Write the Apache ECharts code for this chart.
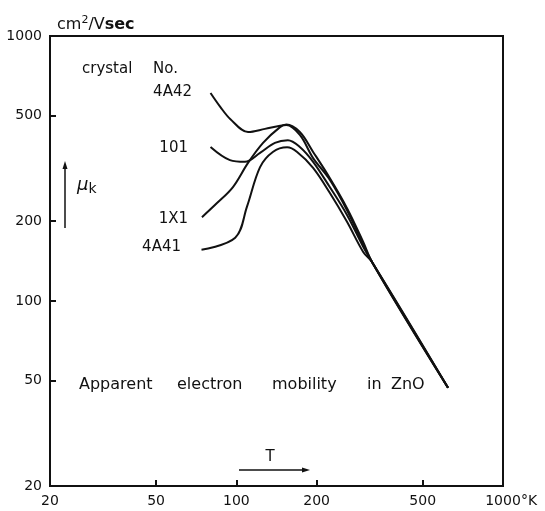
<!DOCTYPE html>
<html>
<head>
<meta charset="utf-8">
<script src="https://cdn.jsdelivr.net/npm/echarts@6/dist/echarts.min.js"></script>
<style>
html,body{margin:0;padding:0;background:#fff;}
#chart{width:545px;height:511px;}
</style>
</head>
<body>
<div id="chart"></div>
<script>
// Tick values
const xTickLabels = [20, 50, 100, 200, 500, 1000];
const xTicks = [50, 100, 200, 500];
const yTickLabels = [20, 50, 100, 200, 500, 1000];
const yTicks = [50, 100, 200, 500];

// Series names
const seriesNames = ['4A42', '101', '1X1', '4A41'];

// Temperature (K) and mobility (cm2/Vsec)
const t4A42 = [80, 87, 95, 110.6, 128, 146, 154, 173, 194, 224, 260, 323, 622];
const mu4A42 = [609, 540, 485, 434, 446, 458, 461, 423, 346, 287, 220, 140, 47];

const t101 = [80, 94.6, 107.7, 122.7, 139.5, 156, 173, 194, 224, 260, 299, 323, 622];
const mu101 = [381, 340, 335, 362, 395, 404, 381, 335, 269, 211, 160, 140, 47];

const t1X1 = [74.3, 84.6, 97.1, 110.6, 125.9, 145.8, 154, 173, 194, 224, 260, 299, 323, 622];
const mu1X1 = [207, 234, 269, 332, 395, 453, 463, 434, 365, 291, 224, 167, 140, 47];

const t4A41 = [74, 99, 109.6, 122.7, 137, 155, 169, 194, 224, 260, 299, 323, 622];
const mu4A41 = [156, 173, 227, 320, 365, 380, 365, 318, 256, 199, 153, 140, 47];

const FONT = 'DejaVu Sans';
const INK = '#111';

function pairs(xs, ys) { return xs.map((x, i) => [x, ys[i]]); }

const chart = echarts.init(document.getElementById('chart'), null, {renderer: 'canvas'});

function mkSeries(name, xs, ys) {
  return {
    name: name, type: 'line', data: pairs(xs, ys),
    showSymbol: false, symbol: 'none', smooth: 0.35,
    lineStyle: {color: INK, width: 2},
    animation: false, z: 3
  };
}

const option = {
  animation: false,
  backgroundColor: '#fff',
  grid: {left: 50, right: 42, top: 36, bottom: 25, show: true, borderColor: INK, borderWidth: 2, backgroundColor: 'transparent'},
  xAxis: {
    type: 'log', logBase: 10, min: 20, max: 1000,
    axisLine: {show: true, lineStyle: {color: INK, width: 2}},
    axisTick: {show: true, inside: true, length: 6, lineStyle: {color: INK, width: 2}, customValues: xTicks},
    axisLabel: {show: true, color: INK, fontFamily: FONT, fontSize: 14, margin: 8, customValues: xTickLabels,
      formatter: v => String(Math.round(v))},
    splitLine: {show: false}, minorTick: {show: false}
  },
  yAxis: {
    type: 'log', logBase: 10, min: 20, max: 1000,
    axisLine: {show: true, lineStyle: {color: INK, width: 2}},
    axisTick: {show: true, inside: true, length: 6, lineStyle: {color: INK, width: 2}, customValues: yTicks},
    axisLabel: {show: true, color: INK, fontFamily: FONT, fontSize: 14, margin: 8, customValues: yTickLabels,
      formatter: v => String(Math.round(v))},
    splitLine: {show: false}, minorTick: {show: false}
  },
  series: [
    mkSeries(seriesNames[0], t4A42, mu4A42),
    mkSeries(seriesNames[1], t101, mu101),
    mkSeries(seriesNames[2], t1X1, mu1X1),
    mkSeries(seriesNames[3], t4A41, mu4A41)
  ]
};
chart.setOption(option);

function txt(text, x, y, opts) {
  return {
    type: 'text', x: x, y: y, z: 10,
    style: Object.assign({text: text, fill: INK, font: '15px "' + FONT + '"', textAlign: 'left', textVerticalAlign: 'middle'}, (opts || {}))
  };
}

const x1000 = chart.convertToPixel({xAxisIndex: 0}, 1000);
const yBottom = chart.convertToPixel({yAxisIndex: 0}, 20);

chart.setOption({
  graphic: [
    // unit label
    {type: 'text', x: 57, y: 25, z: 10, style: {
      text: 'cm{s|2}/V{b|sec}', fill: INK, font: '16px "' + FONT + '"', textVerticalAlign: 'middle',
      rich: {
        s: {fontSize: 11, fontFamily: FONT, verticalAlign: 'top', padding: [0, 0, 10, 0], fill: INK},
        b: {fontSize: 16, fontFamily: FONT, fontWeight: 'bold', fill: INK}
      }
    }},
    txt('°K', x1000 + 18, yBottom + 15, {font: '14px "' + FONT + '"'}),
    txt('crystal', 82, 69),
    txt('No.', 153, 69),
    txt('4A42', 192, 92, {textAlign: 'right'}),
    txt('101', 188, 148, {textAlign: 'right'}),
    txt('1X1', 188, 219, {textAlign: 'right'}),
    txt('4A41', 181, 247, {textAlign: 'right'}),
    // mu_k
    {type: 'text', x: 77, y: 185, z: 10, style: {
      text: 'μ{k|k}', fill: INK, font: 'italic 18px "' + FONT + '"', textVerticalAlign: 'middle',
      rich: {k: {fontSize: 14, fontFamily: FONT, fontStyle: 'normal', padding: [8, 0, 0, 0], fill: INK}}
    }},
    {type: 'line', z: 10, shape: {x1: 65, y1: 228, x2: 65, y2: 166}, style: {stroke: INK, lineWidth: 1.5}},
    {type: 'polygon', z: 10, shape: {points: [[65, 161], [62.5, 169], [67.5, 169]]}, style: {fill: INK}},
    // title words
    txt('Apparent', 79, 385, {font: '16px "' + FONT + '"'}),
    txt('electron', 177, 385, {font: '16px "' + FONT + '"'}),
    txt('mobility', 272, 385, {font: '16px "' + FONT + '"'}),
    txt('in', 367, 385, {font: '16px "' + FONT + '"'}),
    txt('ZnO', 391, 385, {font: '16px "' + FONT + '"'}),
    // T arrow
    txt('T', 270, 457, {textAlign: 'center'}),
    {type: 'line', z: 10, shape: {x1: 239, y1: 470, x2: 303, y2: 470}, style: {stroke: INK, lineWidth: 1.5}},
    {type: 'polygon', z: 10, shape: {points: [[310, 470], [302, 467.5], [302, 472.5]]}, style: {fill: INK}}
  ]
});
</script>
</body>
</html>
